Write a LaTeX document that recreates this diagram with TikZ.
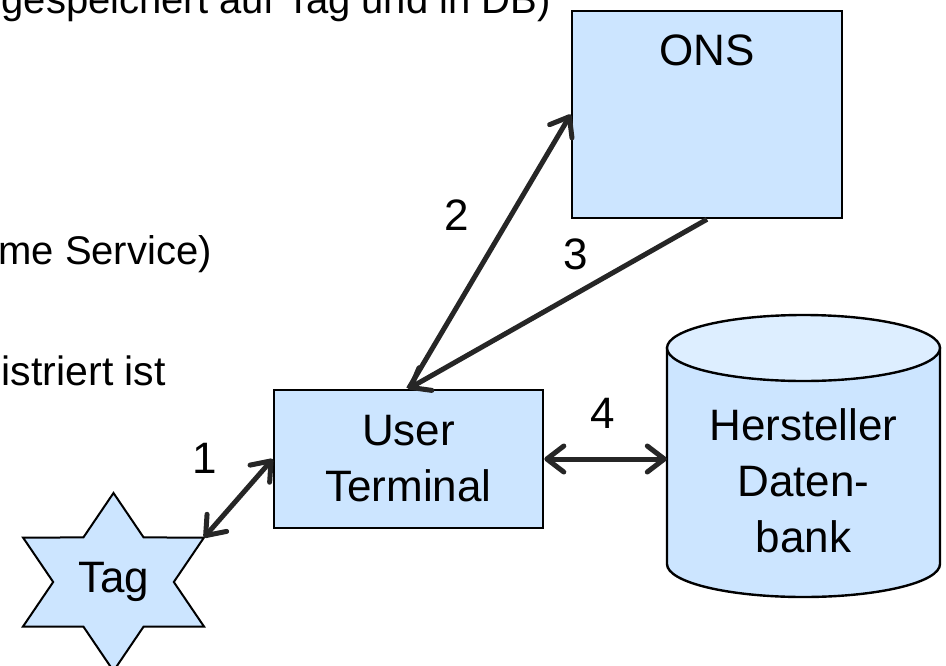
\documentclass[tikz,border=0pt]{standalone}
\usepackage{fontspec}
\setmainfont{Liberation Sans}
\usetikzlibrary{arrows.meta}
\definecolor{boxfill}{HTML}{CCE5FF}
\definecolor{topfill}{HTML}{DDEEFF}
\definecolor{arrowcol}{HTML}{262626}
\tikzset{
  boxstyle/.style={draw=black, fill=boxfill, line width=2.6pt, inner sep=0pt},
  bigtext/.style={font=\fontsize{44}{56}\selectfont, inner sep=0pt, align=center},
  sidetext/.style={font=\fontsize{40}{48}\selectfont, inner sep=0pt},
  conn/.style={draw=arrowcol, line width=5pt},
  tip/.style={-{Straight Barb[length=17pt,width=26pt,round]}},
  tips/.style={{Straight Barb[length=17pt,width=26pt,round]}-{Straight Barb[length=17pt,width=26pt,round]}}
}
\begin{document}
\begin{tikzpicture}[x=1pt,y=-1pt]
\useasboundingbox (0,0) rectangle (946,665);

% left texts (cut off)
\node[sidetext, anchor=base east] (t1) at (551,13) {gespeichert auf Tag und in DB)};
\node[sidetext, anchor=base east] (t2) at (212,264) {me Service)};
\node[sidetext, font=\fontsize{41}{48}\selectfont, anchor=base east] (t3) at (166,385) {istriert ist};

% ONS
\node[boxstyle, minimum width=270pt, minimum height=207pt] (ons) at (707,114.5) {};
\node[bigtext] (onslabel) at (707,50) {ONS};

% User Terminal
\node[boxstyle, minimum width=269pt, minimum height=138pt, bigtext] (ut) at (408.5,459) {User\\Terminal};

% Database cylinder
\filldraw[draw=black, fill=boxfill, line width=2.4pt]
  (667,348) -- (667,564) arc[start angle=180, end angle=0, x radius=136.5, y radius=33] -- (940,348) -- cycle;
\filldraw[draw=black, fill=topfill, line width=2.4pt] (803.5,348) ellipse [x radius=136.5, y radius=33];
\node[minimum width=273pt, minimum height=282pt, inner sep=0pt] (db) at (803.5,456) {};
\node[bigtext] (dbtext) at (803.5,481) {Hersteller\\Daten-\\bank};

% Tag star
\begin{scope}[shift={(113.5,582)}]
\filldraw[draw=black, fill=boxfill, line width=2pt, line join=miter]
  (90:104.5 and 89) -- (60:60.3 and 51.4) -- (30:104.5 and 89) -- (0:60.3 and 51.4)
  -- (-30:104.5 and 89) -- (-60:60.3 and 51.4) -- (-90:104.5 and 89) -- (-120:60.3 and 51.4)
  -- (-150:104.5 and 89) -- (180:60.3 and 51.4) -- (150:104.5 and 89) -- (120:60.3 and 51.4) -- cycle;
\coordinate (tagtip) at (-30:104.5 and 89);
\end{scope}
\node[bigtext] (tag) at (113.5,582) {Tag};

% connectors
\draw[conn, tips] (tagtip) -- (ut.west);
\draw[conn, tip] (ut.north) -- (ons.west);
\draw[conn, tip] (ons.south) -- (ut.north);
\draw[conn, tips] (ut.east) -- (ut.east -| db.west);

% labels
\node[bigtext] (l1) at (205,458) {1};
\node[bigtext] (l2) at (457,215) {2};
\node[bigtext] (l3) at (576,254) {3};
\node[bigtext] (l4) at (603,413) {4};
\end{tikzpicture}
\end{document}
